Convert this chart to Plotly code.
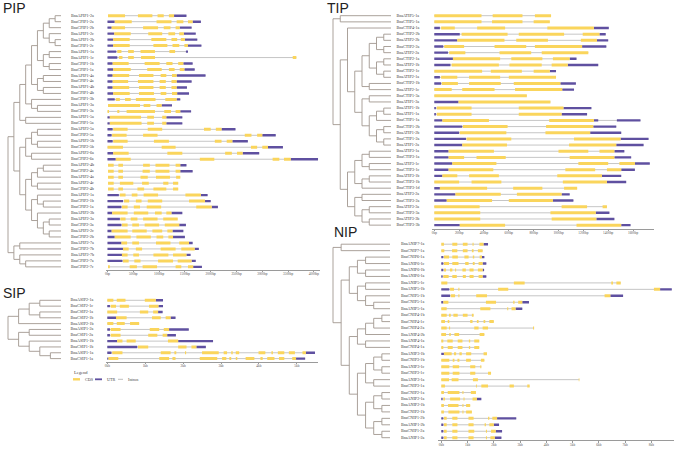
import plotly.graph_objects as go

W, H = 675, 449
CDS_COLOR = "#FAD55C"
UTR_COLOR = "#5F50A0"
INTRON_COLOR = "#BFBFBF"
TREE_COLOR = "#A29790"
TEXT_FONT = "Liberation Serif"

# ------------------------------------------------------------------ data
PIP_GENES = ["BnaAPIP1-2a", "BnaCPIP1-2a", "BnaCPIP1-2b", "BnaAPIP1-2c", "BnaAPIP1-2b", "BnaCPIP1-2c",
             "BnaAPIP1-1a", "BnaAPIP1-1c", "BnaCPIP1-1b", "BnaCPIP1-1a", "BnaAPIP1-4a", "BnaCPIP1-4a",
             "BnaAPIP1-4b", "BnaCPIP1-4b", "BnaCPIP1-3b", "BnaAPIP1-3a", "BnaCPIP1-3a", "BnaAPIP1-5a",
             "BnaCPIP1-5a", "BnaAPIP2-5a", "BnaCPIP2-5a", "BnaAPIP2-5b", "BnaCPIP2-5b", "BnaAPIP2-6a",
             "BnaCPIP2-6a", "BnaAPIP2-4b", "BnaCPIP2-4a", "BnaAPIP2-4a", "BnaAPIP2-4c", "BnaCPIP2-4b",
             "BnaAPIP2-1a", "BnaCPIP2-1b", "BnaCPIP2-1a", "BnaAPIP2-3b", "BnaAPIP2-3a", "BnaCPIP2-3a",
             "BnaAPIP2-2c", "BnaCPIP2-2b", "BnaAPIP2-7a", "BnaCPIP2-7b", "BnaAPIP2-7b", "BnaCPIP2-7a",
             "BnaCPIP2-7c"]
# C = CDS, U = UTR, positions in bp; introns fill the rest of each gene span
PIP_STRUCT = [
    "C10-340 C590-870 C970-1090 C1190-1290 U1290-1530",
    "U0-140 C140-470 C950-1240 C1340-1470 C1560-1650 U1650-1810",
    "U0-80 C80-340 C690-980 C1090-1220 C1320-1400 U1400-1630",
    "U0-130 C130-450 C790-1060 C1180-1310 C1390-1480 U1480-1710",
    "U0-110 C110-430 C850-1140 C1240-1350 C1420-1500 U1500-1740",
    "U0-110 C110-430 C890-1160 C1260-1390 C1490-1560 U1560-1820",
    "U0-170 C190-270 C400-510 C640-920 C1200-1310 U1520-1560",
    "U0-190 C220-290 C400-510 C650-920 C3590-3660",
    "U0-100 C100-410 C720-1010 C1140-1260 C1370-1470 U1470-1650",
    "U0-110 C110-450 C770-1050 C1190-1300 C1400-1490 U1490-1690",
    "U0-100 C100-420 C610-890 C1030-1140 C1250-1340 U1340-1900",
    "U0-100 C100-400 C590-890 C1010-1130 C1240-1340 U1340-1630",
    "U0-100 C100-420 C610-890 C1010-1130 C1240-1340 U1340-1540",
    "U0-110 C110-430 C610-900 C1030-1140 C1250-1350 U1350-1580",
    "U0-140 C160-240 C340-450 C550-930 C1120-1340 U1340-1410",
    "C10-630 C700-830 C950-1050 U1050-1250",
    "C0-30 C190-230 C370-920 C1100-1230 C1320-1410 U1410-1620",
    "U0-45 C45-650 C770-900 C1060-1140 U1140-1450",
    "U0-45 C45-660 C770-900 C1060-1140 U1140-1450",
    "U0-100 C110-390 C780-1060 C1870-2000 C2100-2210 U2210-2480",
    "U0-80 C90-370 C690-970 C2660-2790 C2900-3000 U3000-3260",
    "U0-100 C110-390 C900-1190 C2080-2210 C2310-2420 U2420-2720",
    "C0-300 C1050-1320 C2780-2900 C3000-3110 U3110-3400",
    "U0-110 C110-410 C1160-1450 C2280-2410 C2510-2620 U2620-2940",
    "U0-160 C160-450 C1790-2070 C3200-3330 C3420-3550 U3550-4080",
    "C10-120 C210-300 C690-820 C930-1200 C1320-1410 U1410-1530",
    "C10-120 C210-300 C680-820 C930-1200 C1320-1410 U1410-1650",
    "C10-120 C210-300 C640-780 C940-1210 C1330-1410",
    "C10-120 C240-500 C670-800 C1080-1180 C1270-1370",
    "C10-120 C210-300 C580-710 C890-1140 C1270-1370",
    "U0-220 C240-350 C470-580 C700-980 C1510-1810 U1810-1940",
    "U0-300 C320-420 C550-660 C780-1060 C1580-1890 U1890-2000",
    "U0-270 C280-390 C510-630 C760-1040 C1720-2020 U2020-2140",
    "U0-90 C90-390 C510-790 C920-1050 C1140-1240 U1240-1450",
    "U0-240 C250-350 C450-580 C690-970 C1080-1360",
    "U0-270 C280-390 C480-610 C720-1000 C1110-1390 U1390-1520",
    "U0-80 C80-390 C480-760 C870-1060 C1160-1260 U1260-1470",
    "U0-140 C140-450 C560-840 C950-1080 C1180-1270 U1270-1500",
    "U0-270 C270-380 C480-610 C940-1220 C1390-1580 U1580-1650",
    "U0-300 C300-410 C550-670 C1030-1320 C1430-1690 U1690-1770",
    "U0-280 C280-390 C500-610 C890-1180 C1270-1530 U1530-1610",
    "U0-290 C300-410 C520-640 C980-1270 C1360-1630 U1630-1710",
    "C10-45 C430-570 C680-960 C1320-1430 C1560-1660 U1660-1830",
]
_A = (((1, 2), 3), (4, (5, 6)))
_B = ((7, 8), (9, 10))
_C = ((11, 12), (13, 14))
_D = (15, (16, 17))
_PIP1 = (((((_A, _B), _C), _D)), (18, 19))
_E = (((20, 21), (22, 23)), (24, 25))
_F = (((26, 27), 28), (29, 30))
_G = (31, (32, 33))
_H = (34, ((35, 36), (37, 38)))
_PIP2 = (_E, (_F, (_G, _H)))
_P7 = ((39, 40), (41, (42, 43)))
PIP_TREE = ((_PIP1, _PIP2), _P7)
PIP_TICKS = [0, 500, 1000, 1500, 2000, 2500, 3000, 3500, 4000]
PIP_TICK_TEXT = ["0bp", "500bp", "1000bp", "1500bp", "2000bp", "2500bp", "3000bp", "3500bp", "4000bp"]

SIP_GENES = ["BnaASIP2-1a", "BnaCSIP2-1c", "BnaCSIP2-1a", "BnaCSIP2-1b", "BnaASIP2-1b", "BnaASIP1-2a",
             "BnaCSIP1-2a", "BnaASIP1-1b", "BnaCSIP1-1b", "BnaASIP1-1a", "BnaCSIP1-1a"]
SIP_STRUCT = [
    "C0-160 C250-480 C990-1280 U1280-1470",
    "U0-70 C90-230 C330-570 C1100-1350 U1350-1470",
    "C0-260 C860-1080 C1210-1340 U1340-1460",
    "U0-230 C230-510 C1180-1410 C1540-1670 U1670-1800",
    "C0-160 C250-460 C600-840",
    "U0-70 C90-350 C1120-1370 C1490-1630 U1630-2150",
    "U0-70 C90-350 C1080-1320 C1460-1580 U1580-1810",
    "U0-260 C260-400 C510-750 C1600-1870 U1870-2790",
    "U0-790 C810-1080 C1870-2090 C2220-2350 U2350-2600",
    "U0-110 C130-400 C1410-1670 C1770-1820 C2050-2080 C2500-2940 C3070-3160 C3270-3310 C3390-3480 "
    "C3990-4170 C4330-4370 C4500-4670 C4790-4950 C5150-5240 U5240-5480",
    "U0-30 C30-290 C1370-1630 C1720-1800 C2440-2900 C3030-3140 C3220-3270 C3390-3430 C3650-3880 "
    "C4040-4100 C4220-4410 C4530-4670 C4880-4980 U4980-5220",
]
SIP_TREE = ((((1, 2), (3, 4)), 5), ((6, 7), (8, (9, (10, 11)))))
SIP_TICKS = [0, 1000, 2000, 3000, 4000, 5000]
SIP_TICK_TEXT = ["0kb", "1kb", "2kb", "3kb", "4kb", "5kb"]

TIP_GENES = ["BnaATIP5-1a", "BnaCTIP5-1a", "BnaCTIP4-1a", "BnaCTIP2-2b", "BnaATIP2-2b", "BnaCTIP2-2a",
             "BnaATIP2-2a", "BnaCTIP2-1a", "BnaATIP2-1b", "BnaCTIP2-1c", "BnaATIP2-1a", "BnaCTIP2-1b",
             "BnaATIP2-1c", "BnaCTIP1-3a", "BnaATIP1-3a", "BnaATIP1-1b", "BnaATIP1-1a", "BnaCTIP1-1a",
             "BnaCTIP1-2b", "BnaATIP1-2b", "BnaCTIP1-2a", "BnaATIP1-2a", "BnaATIP3-1a", "BnaCTIP3-1a",
             "BnaATIP3-1c", "BnaCTIP3-1c", "BnaATIP3-1b", "BnaCTIP3-1b", "BnaCTIP3-1d", "BnaATIP3-2a",
             "BnaCTIP3-2a", "BnaATIP3-3a", "BnaCTIP3-3a", "BnaATIP3-3b", "BnaCTIP3-3b"]
TIP_STRUCT = [
    "C0-380 C470-710 C810-940",
    "C0-380 C465-710 C800-930",
    "U0-45 C55-165 C345-570 C910-1285 U1285-1405",
    "U0-205 C220-590 C680-1045 C1195-1330 U1330-1380",
    "U0-185 C185-565 C660-915 C1180-1310 U1310-1400",
    "U0-72 C80-240 C485-740 C810-1190 U1190-1385",
    "U0-110 C120-250 C525-780 C865-1240",
    "U0-150 C150-530 C620-870 C955-1090 U1090-1145",
    "U0-130 C140-520 C605-865 C945-1075 U1075-1320",
    "C0-385 C455-705 C800-930 U930-980",
    "U0-45 C55-185 C280-530 C600-980",
    "U0-55 C60-190 C280-535 C640-1015 U1015-1140",
    "C0-140 C225-485 C650-1030 U1030-1125",
    "C0-745",
    "U0-195 C195-935",
    "U0-13 C20-300 C680-1040 U1040-1265",
    "U0-13 C20-300 C680-1025 U1025-1230",
    "U0-65 C65-440 C925-1285 U1285-1320 U1470-1660",
    "U0-225 C230-590 C900-1280 U1280-1465",
    "U0-200 C205-580 C895-1255 U1255-1505",
    "U0-255 C260-620 C1125-1500 U1500-1725",
    "U0-225 C225-585 C1085-1465 U1465-1685",
    "U0-115 C115-480 C1000-1240 C1330-1450 U1450-1530",
    "U0-115 C115-240 C340-575 C1090-1450 U1450-1585",
    "U0-145 C145-500 C1160-1400 C1490-1615 U1615-1735",
    "U0-115 C115-475 C1055-1295 C1390-1505 U1505-1615",
    "U0-65 C65-185 C280-520 C990-1350 U1350-1505",
    "C0-200 C300-540 C1035-1390 U1390-1545",
    "U0-45 C45-425 C635-870 C1045-1150",
    "U0-170 C170-535 C665-1025 U1025-1090",
    "U0-100 C100-465 C600-955 U955-1120",
    "C0-365 C1025-1230 C1355-1390",
    "C0-370 C935-1300 U1300-1410",
    "C0-370 C945-1305 U1305-1450",
    "U0-205 C205-570 C1145-1505 U1505-1580",
]
_T2 = ((((4, 5), (6, 7)), ((8, 9), (10, 11))), (12, 13))
_T1 = ((14, 15), (((16, 17), 18), ((19, 20), (21, 22))))
_T3 = ((((23, 24), (25, 26)), ((27, 28), 29)), ((30, 31), ((32, 33), (34, 35))))
TIP_TREE = ((1, 2), ((3, (_T2, _T1)), _T3))
TIP_TICKS = [0, 200, 400, 600, 800, 1000, 1200, 1400, 1600]
TIP_TICK_TEXT = ["0bp", "200bp", "400bp", "600bp", "800bp", "1000bp", "1200bp", "1400bp", "1600bp"]

NIP_GENES = ["BnaANIP7-1a", "BnaCNIP7-1a", "BnaCNIP6-1a", "BnaANIP6-1c", "BnaANIP6-1b", "BnaANIP6-1a",
             "BnaANIP5-1c", "BnaANIP5-1b", "BnaCNIP5-1b", "BnaCNIP5-1a", "BnaANIP5-1a", "BnaCNIP4-1b",
             "BnaCNIP4-1c", "BnaCNIP4-2a", "BnaANIP4-2b", "BnaANIP4-1a", "BnaCNIP4-1a", "BnaANIP3-1b",
             "BnaCNIP3-1b", "BnaANIP3-1c", "BnaCNIP3-1c", "BnaANIP3-1a", "BnaCNIP3-1a", "BnaCNIP2-1a",
             "BnaANIP2-1a", "BnaANIP2-1b", "BnaCNIP2-1b", "BnaCNIP1-2b", "BnaANIP1-2b", "BnaCNIP1-2a",
             "BnaANIP1-2a"]
NIP_STRUCT = [
    "C0-100 C420-610 C820-1000 C1190-1230 C1450-1610 U1610-1780",
    "C0-115 C410-610 C820-1000 C1165-1230 C1395-1575",
    "U0-77 C100-295 C420-630 C880-1040 C1200-1255 C1460-1550 U1550-1640",
    "U0-77 C100-295 C420-655 C910-1040 C1200-1270 C1420-1575 U1575-1715",
    "U0-77 C100-180 C330-420 C525-565 C805-935 C1075-1230 C1395-1575 U1575-1630",
    "U0-50 C77-280 C420-590 C820-935 C1075-1230 C1420-1575 U1575-1715",
    "C0-230 C2765-3175 C6475-6540 C6670-6835",
    "U0-305 C335-485 C650-690 C2165-2550 C8100-8335 U8335-8780",
    "U0-335 C360-525 C650-690 C1330-1740 C6220-6440 U6440-6925",
    "U0-77 C77-270 C1700-2085 C2740-2790 C2930-3085 U3085-3340",
    "C0-205 C1485-1870 C2510-2550 C2675-2830 U2830-3085",
    "C0-205 C295-360 C460-625 C820-1000 C1165-1230",
    "C0-140 C245-305 C1100-1190 C1355-1420 C1610-1675 C1830-2000",
    "C0-205 C295-335 C1255-1420 C1575-1780 C3495-3535",
    "C0-180 C305-360 C500-680 C1460-1640",
    "C0-77 C230-435 C625-805 C1050-1100 C1255-1445",
    "C0-77 C245-435 C625-805 C1050-1100 C1255-1445",
    "U0-100 C100-395 C485-565 C690-780 C945-1140 C1610-1740",
    "C0-305 C435-500 C615-690 C945-1125 C1510-1640",
    "C0-305 C435-680 C1100-1295 C1485-1525",
    "C0-305 C435-690 C1100-1295 C1780-1895",
    "C0-295 C395-655 C1205-1395 C5235-5260",
    "C0-140 C1320-1355 C1525-1780 C2600-2765 C3275-3365",
    "C0-100 C245-690 C805-845 C1125-1320",
    "U0-50 C77-140 C335-715 C845-885 C1190-1355 U1355-1525",
    "C0-100 C255-655 C805-845 C945-1100",
    "C0-100 C270-690 C805-845 C945-1165",
    "U0-77 C100-205 C420-615 C1035-1230 C1780-1830 C1945-2125 U2125-2855",
    "U0-77 C100-205 C420-615 C1035-1230 C1650-1700 C1830-2000 U2000-2200",
    "U0-77 C100-205 C420-615 C1035-1255 C1700-1740 C1895-2075 U2075-2315",
    "U0-77 C100-205 C420-615 C1035-1230 C1700-1740 C1870-2040 U2040-2290",
]
_N56 = (((3, 4), (5, 6)), ((7, 8), (9, (10, 11))))
_N4 = ((((12, 13), 14), 15), (16, 17))
_N3 = (((18, 19), (20, 21)), (22, 23))
_N12 = (((24, 25), (26, 27)), ((28, 29), (30, 31)))
NIP_TREE = ((1, 2), (_N56, (_N4, (_N3, _N12))))
NIP_TICKS = [0, 1000, 2000, 3000, 4000, 5000, 6000, 7000, 8000]
NIP_TICK_TEXT = ["0kb", "1kb", "2kb", "3kb", "4kb", "5kb", "6kb", "7kb", "8kb"]

LEGEND_ITEMS = ["CDS", "UTR", "Intron"]

# ------------------------------------------------------------------ layout parameters (pixels)
PANELS = [
    dict(title="PIP", genes=PIP_GENES, structs=PIP_STRUCT, tree=PIP_TREE, tv=PIP_TICKS, tt=PIP_TICK_TEXT,
         root=8, leaf=61, label=71, left=0, gene0=107.5, ppb=0.0516, ax0=105.5, ax1=320,
         row0=15.7, step=5.98, top=11, axis=269.5, tx=1, ty=7.8),
    dict(title="SIP", genes=SIP_GENES, structs=SIP_STRUCT, tree=SIP_TREE, tv=SIP_TICKS, tt=SIP_TICK_TEXT,
         root=8, leaf=61, label=70.5, left=0, gene0=107.3, ppb=0.0379, ax0=105.5, ax1=318,
         row0=300.3, step=5.83, top=296, axis=361.5, tx=1, ty=292.5),
    dict(title="TIP", genes=TIP_GENES, structs=TIP_STRUCT, tree=TIP_TREE, tv=TIP_TICKS, tt=TIP_TICK_TEXT,
         root=333, leaf=391, label=396.5, left=325, gene0=434.3, ppb=0.1242, ax0=432, ax1=653.5,
         row0=15.7, step=6.16, top=11, axis=228.8, tx=325, ty=7.8),
    dict(title="NIP", genes=NIP_GENES, structs=NIP_STRUCT, tree=NIP_TREE, tv=NIP_TICKS, tt=NIP_TICK_TEXT,
         root=333, leaf=390, label=401, left=325, gene0=441.3, ppb=0.02625, ax0=437.5, ax1=673.5,
         row0=244.2, step=6.45, top=240, axis=440.2, tx=332, ty=232),
]


def parse(s):
    out = []
    for tok in s.split():
        a, b = tok[1:].split("-")
        out.append((tok[0], float(a), float(b)))
    return out


def max_depth(node, d=0):
    if isinstance(node, int):
        return d
    return max(max_depth(c, d + 1) for c in node)


def tree_lines(tree, root_x, leaf_x):
    unit = (leaf_x - root_x) / max_depth(tree)
    xs, ys = [], []

    def rec(node, depth):
        if isinstance(node, int):
            return -(node - 1)
        x = root_x + depth * unit
        cys = []
        for ch in node:
            cy = rec(ch, depth + 1)
            cx = leaf_x if isinstance(ch, int) else root_x + (depth + 1) * unit
            xs.extend([x, cx, None])
            ys.extend([cy, cy, None])
            cys.append(cy)
        xs.extend([x, x, None])
        ys.extend([min(cys), max(cys), None])
        return (min(cys) + max(cys)) / 2

    rec(tree, 0)
    return xs, ys


def axname(n):
    return ("x" if n == 1 else f"x{n}"), ("y" if n == 1 else f"y{n}")


def laykey(n):
    return ("xaxis" if n == 1 else f"xaxis{n}"), ("yaxis" if n == 1 else f"yaxis{n}")


fig = go.Figure()
layout = {}
annotations = []
shapes = []

for i, P in enumerate(PANELS):
    nt, ng = 2 * i + 1, 2 * i + 2
    xt, yt = axname(nt)
    xg, yg = axname(ng)
    n = len(P["genes"])
    ytop = (P["row0"] - P["top"]) / P["step"]
    ybot = -(n - 1) - (P["axis"] - (P["row0"] + (n - 1) * P["step"])) / P["step"]
    ydom = [1 - P["axis"] / H, 1 - P["top"] / H]

    kx, ky = laykey(nt)
    layout[kx] = dict(domain=[P["left"] / W, (P["ax0"] - 1) / W], range=[P["left"], P["ax0"] - 1],
                      visible=False, anchor=yt, fixedrange=True)
    layout[ky] = dict(domain=ydom, range=[ybot, ytop], visible=False, anchor=xt, fixedrange=True)
    kx, ky = laykey(ng)
    layout[kx] = dict(domain=[P["ax0"] / W, P["ax1"] / W],
                      range=[(P["ax0"] - P["gene0"]) / P["ppb"], (P["ax1"] - P["gene0"]) / P["ppb"]],
                      anchor=yg, showline=True, linecolor="#9a9a9a", linewidth=0.7,
                      ticks="outside", ticklen=1.5, tickwidth=0.6, tickcolor="#9a9a9a",
                      ticklabelstandoff=-1,
                      tickvals=P["tv"], ticktext=P["tt"], showgrid=False, zeroline=False,
                      tickfont=dict(family=TEXT_FONT, size=3.4, color="#555"), fixedrange=True)
    layout[ky] = dict(domain=ydom, range=[ybot, ytop], visible=False, anchor=xg, fixedrange=True)

    # tree
    tx_, ty_ = tree_lines(P["tree"], P["root"], P["leaf"])
    fig.add_trace(go.Scatter(x=tx_, y=ty_, mode="lines", line=dict(color=TREE_COLOR, width=0.9),
                             xaxis=xt, yaxis=yt, hoverinfo="skip", showlegend=False))
    # names
    fig.add_trace(go.Scatter(x=[P["label"]] * n, y=[-k for k in range(n)], mode="text",
                             text=P["genes"], textposition="middle right",
                             textfont=dict(family=TEXT_FONT, size=4.1, color="#3a3a3a"),
                             xaxis=xt, yaxis=yt, cliponaxis=False, hoverinfo="skip", showlegend=False))
    # gene structures
    segs = {"I": ([], []), "U": ([], []), "C": ([], [])}
    for k, s in enumerate(P["structs"]):
        feats = parse(s)
        y = -k
        lo = min(f[1] for f in feats)
        hi = max(f[2] for f in feats)
        segs["I"][0].extend([lo, hi, None]); segs["I"][1].extend([y, y, None])
        for kind, a, b in feats:
            segs[kind][0].extend([a, b, None]); segs[kind][1].extend([y, y, None])
    for kind, col, wid in [("I", INTRON_COLOR, 0.9), ("U", UTR_COLOR, 2.4), ("C", CDS_COLOR, 3.0)]:
        fig.add_trace(go.Scatter(x=segs[kind][0], y=segs[kind][1], mode="lines",
                                 line=dict(color=col, width=wid), xaxis=xg, yaxis=yg,
                                 hoverinfo="skip", showlegend=False))
    annotations.append(dict(x=P["tx"] / W, y=1 - P["ty"] / H, xref="paper", yref="paper",
                            text=P["title"], showarrow=False, xanchor="left", yanchor="middle",
                            font=dict(family="Liberation Sans", size=14, color="#222")))

# legend (SIP panel)
annotations.append(dict(x=72 / W, y=1 - 372.5 / H, xref="paper", yref="paper", text="Legend",
                        showarrow=False, xanchor="left", yanchor="middle",
                        font=dict(family=TEXT_FONT, size=4.5, color="#444")))
leg_x = [73, 95, 118]
leg_w = [7, 7, 5]
leg_col = [CDS_COLOR, UTR_COLOR, INTRON_COLOR]
leg_lw = [2.4, 1.8, 1.0]
for lx, lw, lc, ll, lab in zip(leg_x, leg_w, leg_col, leg_lw, LEGEND_ITEMS):
    yy = 1 - 379.3 / H
    shapes.append(dict(type="line", xref="paper", yref="paper", x0=lx / W, x1=(lx + lw) / W,
                       y0=yy, y1=yy, line=dict(color=lc, width=ll)))
    annotations.append(dict(x=(lx + lw + 3) / W, y=yy, xref="paper", yref="paper", text=lab,
                            showarrow=False, xanchor="left", yanchor="middle",
                            font=dict(family=TEXT_FONT, size=4.2, color="#444")))

fig.update_layout(width=W, height=H, margin=dict(l=0, r=0, t=0, b=0),
                  paper_bgcolor="white", plot_bgcolor="white", showlegend=False,
                  annotations=annotations, shapes=shapes, **layout)

fig.write_html("out.html", config={"displayModeBar": False},
               post_script="document.body.style.margin='0';document.body.style.overflow='hidden';")
